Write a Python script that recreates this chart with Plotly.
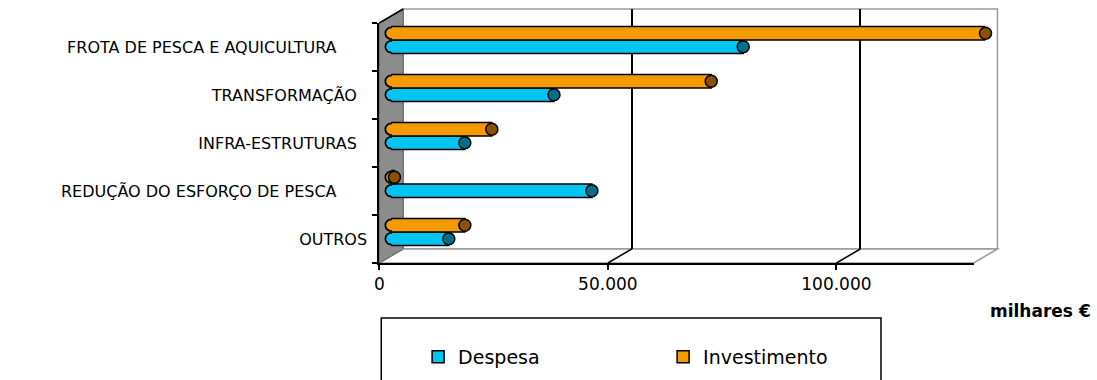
import plotly.graph_objects as go

# ---- data (milhares de euros) ----
categorias = [
    "FROTA DE PESCA E AQUICULTURA",
    "TRANSFORMAÇÃO",
    "INFRA-ESTRUTURAS",
    "REDUÇÃO DO ESFORÇO DE PESCA",
    "OUTROS",
]
despesa = [77000, 35600, 16100, 43900, 12600]
investimento = [130000, 70000, 22000, 700, 16100]
x_tickvals = [0, 50000, 100000]
x_ticktext = ["0", "50.000", "100.000"]
x_max = 130000

# ---- page geometry (pixels) ----
W, H = 1097, 380
FX0, FX1 = 376, 973      # front floor edge
FY0, FY1 = 23, 263       # front top / bottom
DX, DY = 24, 14          # depth shift of the back wall

FONT = "DejaVu Sans"
CYAN, CYAN_DARK = "#00C4F2", "#006F8E"
ORANGE, ORANGE_DARK = "#F59A00", "#8A5200"


def px(x):
    return x / W


def py(y):
    return 1 - y / H


def fx(v, shift=0.0):
    return FX0 + shift + v / x_max * (FX1 - FX0)


# label padding so long labels sit a little further from the axis
pad = {0: 6, 1: 2, 2: 2, 3: 6, 4: 0}
ticktext_y = [c + "\u00a0" * pad[i] for i, c in enumerate(categorias)]
idx = list(range(len(categorias)))

BW = 0.28      # bar thickness in category units
OFF = 0.14     # distance of each bar from the category centre
y_desp = [i + OFF for i in idx]
y_inv = [i - OFF for i in idx]

fig = go.Figure()

# empty carriers so the back-wall grid and the front axes get drawn
fig.add_trace(go.Scatter(x=despesa, y=idx, mode="none", xaxis="x", yaxis="y",
                         showlegend=False, hoverinfo="skip"))
fig.add_trace(go.Scatter(x=despesa, y=idx, mode="none", xaxis="x2", yaxis="y2",
                         showlegend=False, hoverinfo="skip"))

# outline of the rounded left ends (subplot beneath the bars)
for ys in (y_desp, y_inv):
    fig.add_trace(go.Scatter(
        x=[0 for _ in ys], y=ys, mode="markers", xaxis="x3", yaxis="y3",
        marker=dict(symbol="circle", size=12, color="black",
                    line=dict(color="black", width=1.5)),
        cliponaxis=False, showlegend=False, hoverinfo="skip"))

# bars
fig.add_trace(go.Bar(
    name="Despesa", x=despesa, y=y_desp, orientation="h", width=BW,
    xaxis="x4", yaxis="y4",
    marker=dict(color=CYAN, line=dict(color="black", width=1.5))))
fig.add_trace(go.Bar(
    name="Investimento", x=investimento, y=y_inv, orientation="h", width=BW,
    xaxis="x4", yaxis="y4",
    marker=dict(color=ORANGE, line=dict(color="black", width=1.5))))

# fill of the rounded left ends, hiding the flat bar edge
for ys, col in ((y_desp, CYAN), (y_inv, ORANGE)):
    fig.add_trace(go.Scatter(
        x=[0 for _ in ys], y=ys, mode="markers", xaxis="x4", yaxis="y4",
        marker=dict(symbol="circle", size=10, color=col, line=dict(width=0)),
        cliponaxis=False, showlegend=False, hoverinfo="skip"))

# end faces of the cylinders
for xs, ys, col in ((despesa, y_desp, CYAN_DARK), (investimento, y_inv, ORANGE_DARK)):
    fig.add_trace(go.Scatter(
        x=xs, y=ys, mode="markers", xaxis="x4", yaxis="y4",
        marker=dict(symbol="circle", size=12, color=col,
                    line=dict(color="black", width=1.5)),
        cliponaxis=False, showlegend=False, hoverinfo="skip"))

# ---- walls and floor ----
shapes = []
# back wall
shapes.append(dict(type="rect", xref="paper", yref="paper", layer="below",
                   x0=px(FX0 + DX), x1=px(FX1 + DX), y0=py(FY1 - DY), y1=py(FY0 - DY),
                   fillcolor="white", line=dict(color="#999999", width=1.5)))
# floor
shapes.append(dict(type="path", xref="paper", yref="paper", layer="below",
                   path=(f"M{px(FX0)},{py(FY1)} L{px(FX1)},{py(FY1)} "
                         f"L{px(FX1 + DX)},{py(FY1 - DY)} L{px(FX0 + DX)},{py(FY1 - DY)} Z"),
                   fillcolor="white", line=dict(color="#999999", width=1.5)))
# side wall
shapes.append(dict(type="path", xref="paper", yref="paper", layer="below",
                   path=(f"M{px(FX0)},{py(FY0)} L{px(FX0 + DX)},{py(FY0 - DY)} "
                         f"L{px(FX0 + DX)},{py(FY1 - DY)} L{px(FX0)},{py(FY1)} Z"),
                   fillcolor="#8C8C8C", line=dict(color="#666666", width=1)))
# top edge of the side wall
shapes.append(dict(type="line", xref="paper", yref="paper",
                   x0=px(FX0), y0=py(FY0), x1=px(FX0 + DX), y1=py(FY0 - DY),
                   line=dict(color="black", width=1.5)))
# floor gridlines running to the back wall
for v in x_tickvals[1:]:
    shapes.append(dict(type="line", xref="paper", yref="paper", layer="below",
                       x0=px(fx(v)), y0=py(FY1), x1=px(fx(v, DX)), y1=py(FY1 - DY),
                       line=dict(color="black", width=1.5)))
# legend frame
shapes.append(dict(type="rect", xref="paper", yref="paper",
                   x0=px(378), x1=px(880), y0=py(395), y1=py(318),
                   line=dict(color="black", width=1.5), fillcolor="rgba(0,0,0,0)"))

axis_hidden = dict(visible=False, showgrid=False, zeroline=False)
mid_x = [px(FX0 + DX / 2), px(FX1 + DX / 2)]
mid_y = [py(FY1 - DY / 2), py(FY0 - DY / 2)]

fig.update_layout(
    width=W, height=H,
    margin=dict(l=0, r=0, t=0, b=0),
    paper_bgcolor="white", plot_bgcolor="rgba(0,0,0,0)",
    barmode="overlay",
    font=dict(family=FONT, color="black"),
    shapes=shapes,
    # back wall gridlines
    xaxis=dict(domain=[px(FX0 + DX), px(FX1 + DX)], range=[0, x_max], anchor="y",
               tickvals=x_tickvals[1:], showgrid=True, gridcolor="black", gridwidth=1.5,
               showticklabels=False, ticks="", zeroline=False, showline=False),
    yaxis=dict(domain=[py(FY1 - DY), py(FY0 - DY)], range=[0, 1], anchor="x",
               showgrid=False, zeroline=False, showticklabels=False, ticks="",
               showline=False),
    # front axes with tick labels
    xaxis2=dict(domain=[px(FX0), px(FX1)], range=[0, x_max], anchor="y2",
                tickvals=x_tickvals, ticktext=x_ticktext, ticks="outside", ticklen=5,
                tickcolor="black", tickwidth=1.5, showline=True, linecolor="black",
                linewidth=2, showgrid=False, zeroline=False,
                tickfont=dict(family=FONT, size=17, color="black")),
    yaxis2=dict(domain=[py(FY1), py(FY0)], range=[len(categorias) - 0.5, -0.5],
                anchor="x2", tickvals=idx, ticktext=ticktext_y, ticks="",
                ticklabelstandoff=7,
                minor=dict(tickvals=[i - 0.5 for i in idx] + [len(idx) - 0.5],
                           ticks="outside", ticklen=5, tickcolor="black", tickwidth=1.5),
                showline=True, linecolor="black", linewidth=2, showgrid=False,
                zeroline=False, tickfont=dict(family=FONT, size=16, color="black")),
    # left cap outlines
    xaxis3=dict(domain=mid_x, range=[0, x_max], anchor="y3", **axis_hidden),
    yaxis3=dict(domain=mid_y, range=[len(categorias) - 0.5, -0.5], anchor="x3",
                **axis_hidden),
    # bars
    xaxis4=dict(domain=mid_x, range=[0, x_max], anchor="y4", **axis_hidden),
    yaxis4=dict(domain=mid_y, range=[len(categorias) - 0.5, -0.5], anchor="x4",
                **axis_hidden),
    legend=dict(orientation="h", x=px(415), xanchor="left", y=py(357), yanchor="middle",
                bgcolor="rgba(0,0,0,0)", borderwidth=0, entrywidth=200,
                font=dict(family=FONT, size=19, color="black")),
    annotations=[dict(text="<b>milhares €</b>", xref="paper", yref="paper",
                      x=px(1093), xanchor="right", y=py(311), yanchor="middle",
                      showarrow=False, font=dict(family=FONT, size=17, color="black"))],
)

fig.write_html("out.html")
